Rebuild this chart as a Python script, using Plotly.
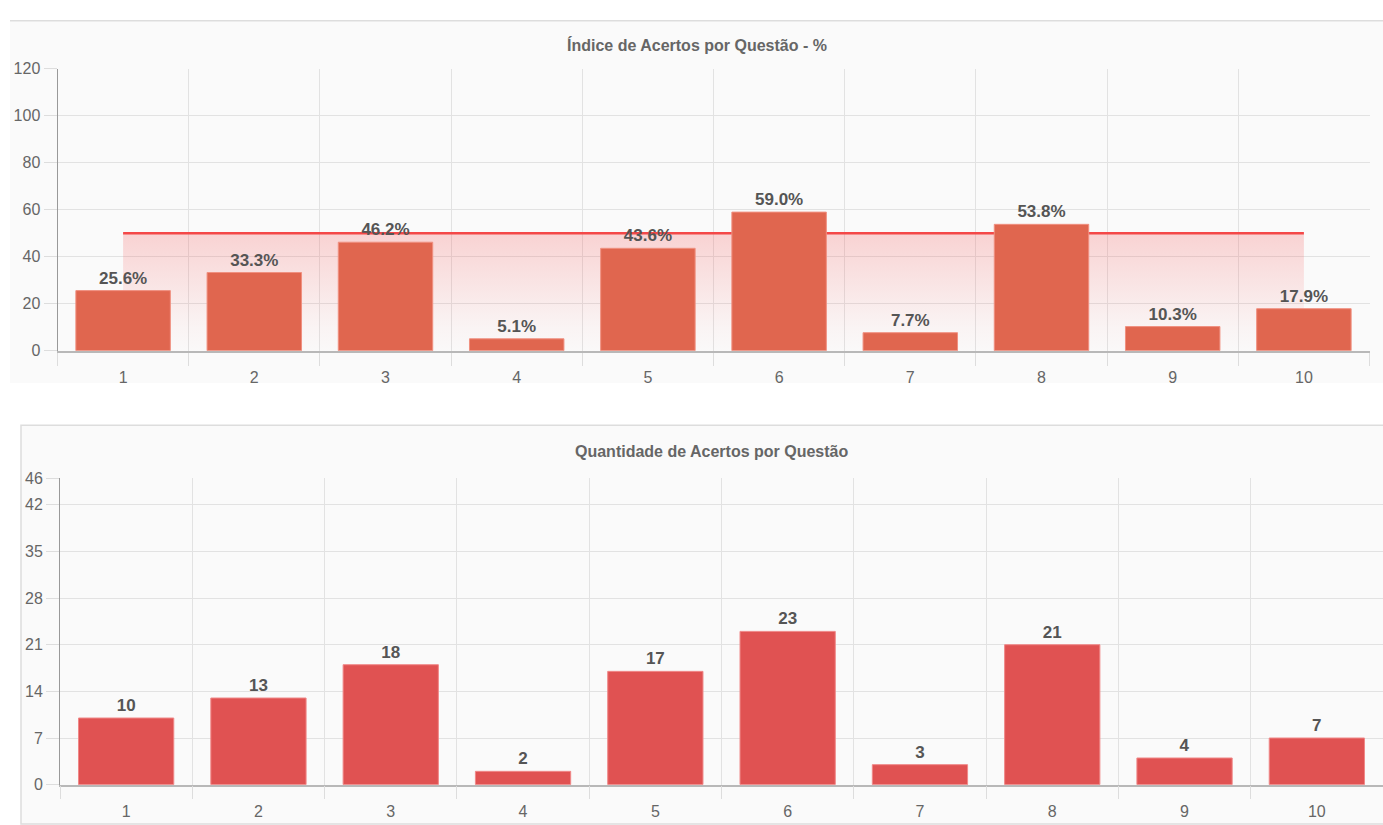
import plotly.graph_objects as go

questions = [1, 2, 3, 4, 5, 6, 7, 8, 9, 10]
pct_values = [25.6, 33.3, 46.2, 5.1, 43.6, 59.0, 7.7, 53.8, 10.3, 17.9]
count_values = [10, 13, 18, 2, 17, 23, 3, 21, 4, 7]
pct_target = 50
pct_ticks = [0, 20, 40, 60, 80, 100, 120]
count_ticks = [0, 7, 14, 21, 28, 35, 42, 46]
title_top = "Índice de Acertos por Questão - %"
title_bottom = "Quantidade de Acertos por Questão"

W, H = 1383, 825
def px(x): return x / W
def py(y): return 1 - y / H

FONT = "Liberation Sans"
TICK_FONT = dict(family=FONT, size=16, color="#666666")
GRID = "#e2e2e2"

fig = go.Figure()

# target line with gradient fill (drawn on base axis, below bars)
fig.add_trace(go.Scatter(
    x=questions, y=[pct_target] * len(questions), mode="lines",
    line=dict(color="#f44848", width=2.5),
    fill="tozeroy",
    fillgradient=dict(type="vertical", start=0, stop=pct_target,
                      colorscale=[[0, "rgba(245,90,90,0)"], [0.25, "rgba(245,90,90,0.04)"],
                                  [1, "rgba(245,90,90,0.24)"]]),
    xaxis="x", yaxis="y", hoverinfo="skip", showlegend=False))

fig.add_trace(go.Bar(
    x=questions, y=pct_values, width=0.72,
    marker=dict(color="#e0664f", line=dict(color="#f09080", width=1)),
    texttemplate="%{y:.1f}%", textposition="outside", cliponaxis=False,
    textfont=dict(family=FONT, size=17, color="#555555", weight="bold"),
    xaxis="x", yaxis="y3", showlegend=False))

fig.add_trace(go.Bar(
    x=questions, y=count_values, width=0.72,
    marker=dict(color="#e05252", line=dict(color="#f08888", width=1)),
    texttemplate="%{y}", textposition="outside", cliponaxis=False,
    textfont=dict(family=FONT, size=17, color="#555555", weight="bold"),
    xaxis="x2", yaxis="y2", showlegend=False))

def xaxis_cfg(domain, anchor):
    return dict(domain=domain, anchor=anchor, range=[0.5, 10.5], tickmode="array",
                tickvals=questions, ticks="outside", ticklen=11, tickcolor="rgba(0,0,0,0)",
                showgrid=False, zeroline=False, showline=True, linecolor="#b8b8b8", linewidth=1.5,
                tickfont=TICK_FONT,
                minor=dict(tick0=0.5, dtick=1, showgrid=True, gridcolor=GRID,
                           ticks="outside", ticklen=13, tickcolor="#dddddd"))

def yaxis_cfg(domain, anchor, rng, ticks):
    return dict(domain=domain, anchor=anchor, range=rng, tickmode="array", tickvals=ticks,
                ticks="outside", ticklen=13, tickcolor="#dddddd", gridcolor=GRID,
                showline=True, linecolor="#999999", linewidth=1, zeroline=False,
                tickfont=TICK_FONT)

fig.update_layout(
    width=W, height=H, margin=dict(l=0, r=0, t=0, b=0),
    paper_bgcolor="white", plot_bgcolor="rgba(0,0,0,0)",
    font=dict(family=FONT), bargap=0.28,
    xaxis=xaxis_cfg([px(57.5), px(1369.5)], "y"),
    yaxis=yaxis_cfg([py(350), py(62)], "x", [0, 120], pct_ticks),
    yaxis3=dict(overlaying="y", anchor="x", range=[0, 120], visible=False),
    xaxis2=xaxis_cfg([px(60), 1], "y2"),
    yaxis2=yaxis_cfg([py(793), py(480)], "x2", [0, 46], count_ticks),
    shapes=[
        dict(type="rect", xref="paper", yref="paper", x0=px(10), x1=1, y0=py(383), y1=py(13),
             fillcolor="#fafafa", line=dict(width=0), layer="below"),
        dict(type="line", xref="paper", yref="paper", x0=px(10), x1=1, y0=py(13), y1=py(13),
             line=dict(color="#dddddd", width=1.5), layer="below"),
        dict(type="rect", xref="paper", yref="paper", x0=px(21), x1=1.01, y0=-0.01, y1=py(426),
             fillcolor="#fafafa", line=dict(color="#dddddd", width=1.5), layer="below"),
    ],
    annotations=[
        dict(text=title_top, xref="paper", yref="paper", x=px(697), y=py(38), showarrow=False,
             xanchor="center", yanchor="middle",
             font=dict(family=FONT, size=16, color="#666666", weight="bold")),
        dict(text=title_bottom, xref="paper", yref="paper", x=px(711), y=py(453), showarrow=False,
             xanchor="center", yanchor="middle",
             font=dict(family=FONT, size=16, color="#666666", weight="bold")),
    ],
)

fig.write_html("out.html")
